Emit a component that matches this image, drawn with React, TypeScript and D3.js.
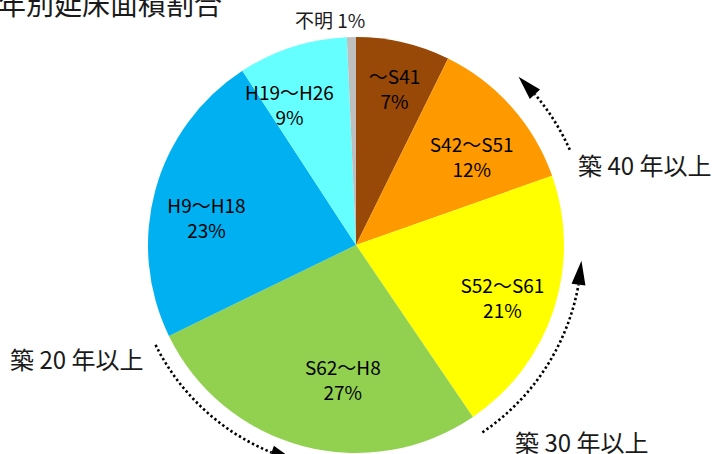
import React from "react";
import * as d3 from "d3";

// 建築年別の延床面積割合 (%)
const categories = ["～S41", "S42～S51", "S52～S61", "S62～H8", "H9～H18", "H19～H26", "不明"];
const shares = [7.3, 12.3, 20.9, 27.3, 23.0, 8.5, 0.7];
const pctLabels = ["7%", "12%", "21%", "27%", "23%", "9%", "1%"];
const colors = ["#984807", "#FF9900", "#FFFF00", "#92D050", "#00B0F0", "#66FFFF", "#BFBFBF"];

// annotation arrows: text, arc from / to (degrees clockwise from 12 o'clock)
const noteTexts = ["築 40 年以上", "築 30 年以上", "築 20 年以上"];
const noteFrom = [66, 146, 243.5];
const noteTo = [44, 94, 196];
const noteRadius = [234, 226, 224];

const W = 715;
const H = 454;
const cx = 356;
const cy = 245;
const R = 208;
const FONT = "'Noto Sans CJK JP', 'Noto Sans', sans-serif";

// small hand nudges so labels sit where the original put them
const labelNudge: [number, number][] = [
  [4, -7],
  [2, 14],
  [2, 7],
  [26, -11],
  [-3, 15],
  [-20, 6],
  [-24, 2],
];

const rad = (deg: number) => (deg * Math.PI) / 180;
const pt = (theta: number, r: number): [number, number] => [
  cx + r * Math.sin(theta),
  cy - r * Math.cos(theta),
];

const Arrow = ({ from, to, r }: { from: number; to: number; r: number }) => {
  const headLen = 24;
  const headHalf = 7;
  const t0 = rad(from);
  const tTip = rad(to);
  const tBase = tTip + headLen / r;
  const p = d3.path();
  // d3.path angles: 0 = +x; pie angle 0 = up
  p.arc(cx, cy, r, t0 - Math.PI / 2, tBase - Math.PI / 2, true);
  const tip = pt(tTip, r);
  const base = pt(tBase, r);
  const dx = tip[0] - base[0];
  const dy = tip[1] - base[1];
  const len = Math.hypot(dx, dy);
  const nx = -dy / len;
  const ny = dx / len;
  const head = [
    tip,
    [base[0] + nx * headHalf, base[1] + ny * headHalf],
    [base[0] - nx * headHalf, base[1] - ny * headHalf],
  ];
  return (
    <g>
      <path d={p.toString()} fill="none" stroke="#000" strokeWidth={2.6} strokeDasharray="2.4 2.6" />
      <path d={d3.line()(head as [number, number][]) + "Z"} fill="#000" />
    </g>
  );
};

export default function App() {
  const pie = d3.pie<number>().sort(null).value((d) => d);
  const arcs = pie(shares);
  const arc = d3.arc<d3.PieArcDatum<number>>().innerRadius(0).outerRadius(R);
  const labelArc = d3.arc<d3.PieArcDatum<number>>().innerRadius(152).outerRadius(152);
  const outerArc = d3.arc<d3.PieArcDatum<number>>().innerRadius(225).outerRadius(225);

  return (
    <svg
      width={W}
      height={H}
      style={{ position: "absolute", left: 0, top: 0, background: "#fff" }}
      fontFamily={FONT}
    >
      <text x={222} y={15} textAnchor="end" fontSize={28} fill="#1a1a1a">
        建築年別延床面積割合
      </text>

      <g transform={`translate(${cx},${cy})`}>
        {arcs.map((a, i) => (
          <path key={i} d={arc(a) || ""} fill={colors[i]} />
        ))}
      </g>

      {arcs.map((a, i) => {
        const last = i === arcs.length - 1;
        const c = last ? outerArc.centroid(a) : labelArc.centroid(a);
        const x = cx + c[0] + labelNudge[i][0];
        const y = cy + c[1] + labelNudge[i][1];
        if (last) {
          return (
            <text key={i} x={x + 3} y={y + 6} textAnchor="middle" fontSize={19} fill="#1a1a1a">
              {categories[i]} {pctLabels[i]}
            </text>
          );
        }
        return (
          <text key={i} textAnchor="middle" fontSize={19} fill="#000">
            <tspan x={x} y={y - 6}>{categories[i]}</tspan>
            <tspan x={x} y={y + 19}>{pctLabels[i]}</tspan>
          </text>
        );
      })}

      {noteTexts.map((t, i) => (
        <Arrow key={i} from={noteFrom[i]} to={noteTo[i]} r={noteRadius[i]} />
      ))}

      <text x={578} y={175} fontSize={24} fill="#1a1a1a">{noteTexts[0]}</text>
      <text x={515} y={452} fontSize={24} fill="#1a1a1a">{noteTexts[1]}</text>
      <text x={10} y={369} fontSize={24} fill="#1a1a1a">{noteTexts[2]}</text>
    </svg>
  );
}
